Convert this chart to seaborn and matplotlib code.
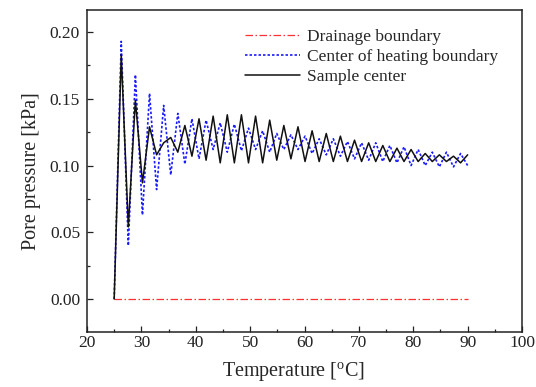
import numpy as np
import pandas as pd
import matplotlib
matplotlib.use("Agg")
import matplotlib.pyplot as plt
import seaborn as sns
from matplotlib.ticker import MultipleLocator, FormatStrFormatter

sns.set_theme(style="ticks")
plt.rcParams['font.family'] = ['Liberation Serif', 'DejaVu Serif']
plt.rcParams['mathtext.fontset'] = 'custom'
plt.rcParams['mathtext.rm'] = 'Liberation Serif'

# ---- data ----
temperature = [25 + 1.3 * k for k in range(51)]

sample_center = [0.000, 0.183, 0.054, 0.149, 0.087, 0.129, 0.108, 0.117, 0.121, 0.110,
                 0.130, 0.107, 0.135, 0.104, 0.137, 0.102, 0.138, 0.102, 0.138, 0.102,
                 0.137, 0.102, 0.134, 0.104, 0.130, 0.105, 0.129, 0.103, 0.126, 0.103,
                 0.124, 0.103, 0.122, 0.103, 0.119, 0.103, 0.117, 0.103, 0.115, 0.103,
                 0.113, 0.103, 0.112, 0.103, 0.109, 0.103, 0.108, 0.103, 0.107, 0.102,
                 0.108]

heating_center = [0.000, 0.193, 0.040, 0.168, 0.063, 0.154, 0.082, 0.145, 0.093, 0.139,
                  0.101, 0.135, 0.105, 0.134, 0.112, 0.132, 0.110, 0.131, 0.111, 0.128,
                  0.112, 0.126, 0.110, 0.124, 0.112, 0.123, 0.112, 0.122, 0.109, 0.120,
                  0.108, 0.120, 0.107, 0.118, 0.105, 0.117, 0.104, 0.117, 0.103, 0.115,
                  0.102, 0.114, 0.100, 0.112, 0.100, 0.110, 0.099, 0.110, 0.099, 0.109,
                  0.100]

drainage = [0.0] * len(temperature)

series_names = ["Drainage boundary", "Center of heating boundary", "Sample center"]

df = pd.DataFrame({
    "Temperature": temperature * 3,
    "Pressure": drainage + heating_center + sample_center,
    "Series": [series_names[0]] * 51 + [series_names[1]] * 51 + [series_names[2]] * 51,
})

fig = plt.figure(figsize=(5.36, 3.87), dpi=100)
ax = fig.add_axes([0.1623, 0.1421, 0.8116, 0.8321])

styles = {
    series_names[0]: dict(color="#ff3030", linestyle=(0, (6, 2, 1.2, 2)), linewidth=0.9),
    series_names[1]: dict(color="#1a1aff", linestyle=(0, (1.5, 1.2)), linewidth=1.2),
    series_names[2]: dict(color="#111111", linestyle="-", linewidth=1.1),
}
for name in series_names:
    sub = df[df["Series"] == name]
    sns.lineplot(data=sub, x="Temperature", y="Pressure", ax=ax, label=name,
                 estimator=None, sort=False, **styles[name])

ax.set_xlim(20, 100)
ax.set_ylim(-0.0247, 0.2165)
ax.xaxis.set_major_locator(MultipleLocator(10))
ax.xaxis.set_minor_locator(MultipleLocator(5))
ax.yaxis.set_major_locator(MultipleLocator(0.05))
ax.yaxis.set_minor_locator(MultipleLocator(0.025))
ax.yaxis.set_major_formatter(FormatStrFormatter("%.2f"))
ax.tick_params(which="both", direction="in", top=False, right=False,
               labelsize=12.5, colors="#222222", width=0.9)
ax.tick_params(which="major", length=4)
ax.tick_params(axis="x", which="major", pad=2)
ax.tick_params(axis="y", which="major", pad=5)
ax.tick_params(which="minor", length=2.5)
for s in ax.spines.values():
    s.set_linewidth(1.1)
    s.set_color("#222222")

ax.set_xlabel(r"Temperature [$^{\mathrm{o}}$C]", fontsize=14.5)
ax.set_ylabel("Pore pressure [kPa]", fontsize=14.5, labelpad=6)
ax.xaxis.set_label_coords(0.474, -0.088)

leg = ax.legend(loc="upper left", bbox_to_anchor=(0.363, 0.94), frameon=False,
                fontsize=12.5, handlelength=3.2, handletextpad=0.4, labelspacing=0.2,
                borderaxespad=0.0, borderpad=0.0)

fig.savefig("out.png", dpi=100)
